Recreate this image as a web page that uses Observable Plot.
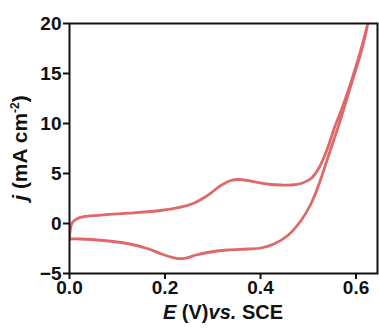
<!DOCTYPE html>
<html>
<head>
<meta charset="utf-8">
<script src="https://cdn.jsdelivr.net/npm/d3@7"></script>
<script src="https://cdn.jsdelivr.net/npm/@observablehq/plot@0.6"></script>
<style>
  html, body { margin: 0; padding: 0; background: #fff; }
  svg { font-family: "Liberation Sans", Arial, sans-serif; font-weight: bold; }
</style>
</head>
<body>
<div id="chart"></div>
<script>
// Forward scan (anodic)
const E_forward = [0.000, 0.002, 0.006, 0.015, 0.030, 0.060, 0.121, 0.190, 0.233, 0.260, 0.289, 0.317, 0.338, 0.355, 0.380, 0.401, 0.422, 0.443, 0.465, 0.485, 0.506, 0.523, 0.541, 0.555, 0.569, 0.590, 0.611, 0.625];
const j_forward = [-1.6, -0.5, 0.1, 0.45, 0.68, 0.82, 1.03, 1.3, 1.63, 2.03, 2.8, 3.8, 4.3, 4.4, 4.23, 4.03, 3.9, 3.85, 3.85, 4.0, 4.5, 5.6, 7.6, 9.6, 11.3, 14.2, 17.5, 20];
// Reverse scan (cathodic)
const E_reverse = [0.611, 0.588, 0.565, 0.551, 0.537, 0.523, 0.506, 0.485, 0.457, 0.429, 0.401, 0.373, 0.331, 0.289, 0.265, 0.248, 0.236, 0.224, 0.208, 0.190, 0.163, 0.121, 0.071, 0.022, 0.000];
const j_reverse = [17.2, 13.6, 10.0, 8.0, 6.0, 4.0, 2.0, 0.3, -1.2, -2.03, -2.45, -2.55, -2.65, -2.9, -3.15, -3.42, -3.52, -3.48, -3.3, -3.0, -2.5, -2.0, -1.7, -1.55, -1.55];

const xTicks = [0.0, 0.2, 0.4, 0.6];
const yTicks = [-5, 0, 5, 10, 15, 20];

const data = [
  ...E_forward.map((E, i) => ({E, j: j_forward[i]})),
  ...E_reverse.map((E, i) => ({E, j: j_reverse[i]}))
];

const W = 379, H = 329;
const mL = 69, mR = 2, mT = 23, mB = 56;

const chart = Plot.plot({
  width: W,
  height: H,
  marginLeft: mL,
  marginRight: mR,
  marginTop: mT,
  marginBottom: mB,
  style: {fontSize: "19px", fontFamily: "Liberation Sans, Arial, sans-serif", fontWeight: "bold", color: "#111", background: "#fff"},
  x: {domain: [0, 0.645]},
  y: {domain: [-5, 20]},
  marks: [
    Plot.axisX({ticks: xTicks, tickFormat: d => d.toFixed(1), tickSize: 6, tickPadding: 1, strokeWidth: 2, label: null, fontWeight: "bold"}),
    Plot.axisY({ticks: yTicks, tickSize: 6, tickPadding: 2, strokeWidth: 2, label: null, fontWeight: "bold"}),
    Plot.line(data, {x: "E", y: "j", stroke: "#e0676a", strokeWidth: 2.8, curve: "catmull-rom", clip: true}),
    Plot.frame({stroke: "#111", strokeWidth: 2})
  ]
});

document.getElementById("chart").appendChild(chart);

const svg = d3.select(chart);
const xr = chart.scale("x").range;
const yr = chart.scale("y").range;
const cx = (xr[0] + xr[1]) / 2;
const cy = (yr[0] + yr[1]) / 2;

const xl = svg.append("text")
  .attr("x", cx).attr("y", H - 10)
  .attr("text-anchor", "middle")
  .attr("font-size", 20).attr("font-weight", "bold").attr("fill", "#111");
xl.append("tspan").attr("font-style", "italic").text("E");
xl.append("tspan").text(" (V)");
xl.append("tspan").attr("font-style", "italic").text("vs.");
xl.append("tspan").text(" SCE");

const yl = svg.append("text")
  .attr("transform", `translate(${27},${cy}) rotate(-90)`)
  .attr("text-anchor", "middle")
  .attr("font-size", 21).attr("font-weight", "bold").attr("fill", "#111");
yl.append("tspan").attr("font-style", "italic").text("j");
yl.append("tspan").text(" (mA cm");
yl.append("tspan").attr("font-size", 12).attr("dy", -8).text("-2");
yl.append("tspan").attr("dy", 8).text(")");
</script>
</body>
</html>
